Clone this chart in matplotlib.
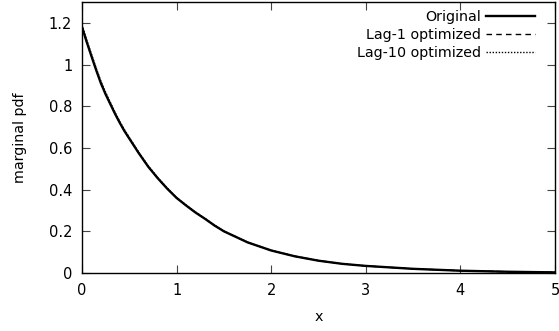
import matplotlib
matplotlib.use("Agg")
import matplotlib.pyplot as plt

x = [0.0, 0.05, 0.1, 0.15, 0.2, 0.25, 0.3, 0.35, 0.4, 0.45, 0.5, 0.6, 0.7, 0.8, 0.9, 1.0,
     1.1, 1.2, 1.3, 1.4, 1.5, 1.75, 2.0, 2.25, 2.5, 2.75, 3.0, 3.5, 4.0, 4.5, 5.0]
original = [1.18, 1.108, 1.04, 0.973, 0.91, 0.857, 0.81, 0.763, 0.72, 0.68, 0.645,
            0.575, 0.51, 0.455, 0.405, 0.36, 0.324, 0.29, 0.26, 0.228, 0.20,
            0.147, 0.108, 0.08, 0.059, 0.044, 0.034, 0.02, 0.011, 0.006, 0.003]
lag1 = [1.18, 1.109, 1.041, 0.975, 0.912, 0.858, 0.81, 0.764, 0.72, 0.68, 0.645,
        0.575, 0.51, 0.455, 0.405, 0.36, 0.324, 0.29, 0.26, 0.228, 0.20,
        0.147, 0.108, 0.08, 0.059, 0.044, 0.034, 0.02, 0.011, 0.006, 0.003]
lag10 = [1.19, 1.118, 1.05, 0.983, 0.92, 0.866, 0.818, 0.77, 0.726, 0.686, 0.65,
         0.579, 0.514, 0.458, 0.408, 0.362, 0.326, 0.292, 0.262, 0.23, 0.201,
         0.148, 0.109, 0.081, 0.06, 0.044, 0.034, 0.02, 0.011, 0.006, 0.003]

xticks = [0, 1, 2, 3, 4, 5]
xticklabels = ["0", "1", "2", "3", "4", "5"]
yticks = [0, 0.2, 0.4, 0.6, 0.8, 1.0, 1.2]
yticklabels = ["0", "0.2", "0.4", "0.6", "0.8", "1", "1.2"]

plt.rcParams['font.family'] = ['DejaVu Sans']
fig = plt.figure(figsize=(5.59, 3.31), dpi=100)
ax = fig.add_axes([82/559, 1-273/331, (555-82)/559, (273-2)/331])

ax.plot(x, original, color='black', lw=1.7, label='Original')
ax.plot(x, lag1, color='black', lw=1.0, ls=(0, (4, 3)), label='Lag-1 optimized')
ax.plot(x, lag10, color='black', lw=1.0, ls=(0, (1, 1.2)), label='Lag-10 optimized')

ax.set_xlim(0, 5)
ax.set_ylim(0, 1.3)
ax.set_xticks(xticks)
ax.set_xticklabels(xticklabels)
ax.set_yticks(yticks)
ax.set_yticklabels(yticklabels)
ax.tick_params(direction='in', length=6, width=0.8, color='#444444',
               top=True, right=True, labelsize=10.5)
ax.tick_params(axis='x', pad=7)
ax.tick_params(axis='y', pad=7)
for s in ax.spines.values():
    s.set_linewidth(1.0)

ax.set_xlabel('x', fontsize=10.3, labelpad=9)
ax.set_ylabel('marginal pdf', fontsize=10.3, labelpad=16)

leg = ax.legend(loc='upper right', bbox_to_anchor=(535/559, 1-10/331),
                bbox_transform=fig.transFigure, frameon=False, markerfirst=False,
                handlelength=3.4, handletextpad=0.4, labelspacing=0.28,
                borderaxespad=0, borderpad=0, fontsize=10.3)

fig.savefig('out.png', dpi=100)
